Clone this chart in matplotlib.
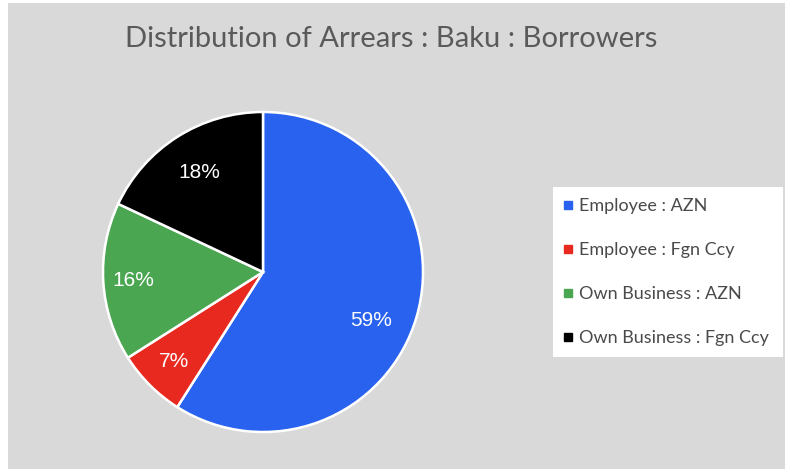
import numpy as np
import matplotlib.pyplot as plt
from matplotlib.patches import Rectangle
from matplotlib.lines import Line2D

# Share of arrears by borrower group
labels = ['Employee : AZN', 'Employee : Fgn Ccy', 'Own Business : AZN', 'Own Business : Fgn Ccy']
shares = [59, 7, 16, 18]
colors = ['#2862ee', '#e8291f', '#4aa651', '#000000']

# where each % label sits: fraction of radius, and angular nudge (deg)
label_r = [0.74, 0.79, 0.81, 0.74]
label_nudge = [-8, 0, 0, 0]

W, H = 785, 469
fig = plt.figure(figsize=(W / 100, H / 100), dpi=100, facecolor='white')

# grey panel with thin white margin at left/top
fig.patches.append(Rectangle((8 / W, 0), 1 - 8 / W, 1 - 3 / H, transform=fig.transFigure,
                             facecolor='#d9d9d9', edgecolor='none', zorder=-5))

fig.text(391 / W, 1 - 39 / H, 'Distribution of Arrears : Baku : Borrowers',
         ha='center', va='center', fontsize=21, color='#5a5a5a', family='Lato')

# pie axes: centre (263, 272) px, radius 160 px
cx, cy, r = 263, 272, 160
pad = 10
ax = fig.add_axes([(cx - r - pad) / W, (H - cy - r - pad) / H, 2 * (r + pad) / W, 2 * (r + pad) / H])
wedges, _, pcts = ax.pie(shares, colors=colors, startangle=90, counterclock=False,
                         autopct=lambda p: f'{p:.0f}%', pctdistance=0.74,
                         wedgeprops=dict(edgecolor='white', linewidth=1.8),
                         textprops=dict(color='white', fontsize=15, family='Liberation Sans'))
for w, t, lr, dn in zip(wedges, pcts, label_r, label_nudge):
    ang = np.deg2rad((w.theta1 + w.theta2) / 2 + dn)
    t.set_position((lr * np.cos(ang), lr * np.sin(ang)))
lim = (r + pad) / r
ax.set_xlim(-lim, lim)
ax.set_ylim(-lim, lim)
ax.set_aspect('equal')
ax.axis('off')

handles = [Line2D([], [], linestyle='none', marker='s', markersize=5.5,
                  markerfacecolor=c, markeredgecolor=c) for c in colors]
leg = fig.legend(handles, labels, loc='upper left',
                 bbox_to_anchor=(553 / W, 1 - 358 / H, 230 / W, 171 / H),
                 mode='expand', borderaxespad=0, frameon=True, fancybox=False,
                 framealpha=1, handlelength=0.45, handletextpad=0.35, labelspacing=1.55,
                 borderpad=0.62, prop=dict(family='Lato', size=13),
                 labelcolor='#4a4a4a')
leg.get_frame().set_facecolor('white')
leg.get_frame().set_edgecolor('none')

fig.savefig('out.png', dpi=100, facecolor=fig.get_facecolor())
